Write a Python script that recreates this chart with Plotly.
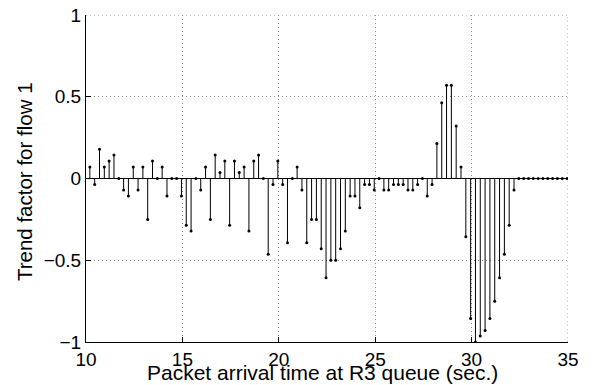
import plotly.graph_objects as go

# sample times (sec.)
t_start = 10.2
t_step = 0.25
n_samples = 100
times = [round(t_start + t_step * k, 3) for k in range(n_samples)]

# trend factor for flow 1
trend = [
    0.071, -0.036, 0.179, 0.071, 0.107, 0.143, 0.0, -0.071, -0.107, 0.071,
    -0.071, 0.071, -0.25, 0.107, 0.0, 0.071, -0.107, 0.0, 0.0, -0.107,
    -0.286, -0.321, 0.0, -0.071, 0.071, -0.25, 0.143, 0.036, 0.107, -0.286,
    0.107, 0.036, 0.071, -0.321, 0.107, 0.143, 0.0, -0.464, -0.036, 0.107,
    -0.036, -0.393, 0.0, 0.071, -0.071, -0.393, -0.25, -0.25, -0.429, -0.607,
    -0.5, -0.5, -0.429, -0.321, -0.107, -0.107, -0.179, -0.036, -0.036, -0.071,
    0.0, -0.071, -0.071, -0.036, -0.036, -0.036, -0.071, -0.071, -0.036, 0.0,
    -0.107, -0.036, 0.214, 0.464, 0.571, 0.571, 0.321, 0.071, -0.357, -0.857,
    -1.0, -0.964, -0.929, -0.857, -0.75, -0.607, -0.464, -0.286, -0.071, 0.0,
    0.0, 0.0, 0.0, 0.0, 0.0, 0.0, 0.0, 0.0, 0.0, 0.0,
]

x_ticks = [10, 15, 20, 25, 30, 35]
x_tick_text = ["10", "15", "20", "25", "30", "35"]
y_ticks = [-1, -0.5, 0, 0.5, 1]
y_tick_text = ["\u22121", "\u22120.5", "0", "0.5", "1"]

x_title = "Packet arrival time at R3 queue (sec.)"
y_title = "Trend factor for flow 1"

FONT = "Liberation Sans, Arial, Helvetica, sans-serif"
GRID_COLOR = "#8c8c8c"
GRID_DASH = "1px,3px"

stem_x, stem_y = [], []
for t, v in zip(times, trend):
    stem_x += [t, t, None]
    stem_y += [0, v, None]

fig = go.Figure()
fig.add_trace(go.Scatter(x=stem_x, y=stem_y, mode="lines",
                         line=dict(color="black", width=1),
                         hoverinfo="skip", showlegend=False, cliponaxis=True))
fig.add_trace(go.Scatter(x=times, y=trend, mode="markers",
                         marker=dict(color="black", size=3),
                         showlegend=False, cliponaxis=True))
# dotted grid lines on the open top and right edges
fig.add_shape(type="line", xref="x", yref="y", x0=x_ticks[0], x1=x_ticks[-1],
              y0=y_ticks[-1], y1=y_ticks[-1], layer="below",
              line=dict(color=GRID_COLOR, width=1, dash=GRID_DASH))
fig.add_shape(type="line", xref="x", yref="y", x0=x_ticks[-1], x1=x_ticks[-1],
              y0=y_ticks[0], y1=y_ticks[-1], layer="below",
              line=dict(color=GRID_COLOR, width=1, dash=GRID_DASH))
# stem baseline
fig.add_shape(type="line", xref="x", yref="y", x0=x_ticks[0], x1=x_ticks[-1],
              y0=0, y1=0, line=dict(color="black", width=1))

axis_common = dict(
    showgrid=True, gridcolor=GRID_COLOR, griddash=GRID_DASH, gridwidth=1,
    showline=True, linecolor="black", linewidth=1,
    ticks="inside", ticklen=5, tickcolor="black", tickwidth=1,
    zeroline=False, mirror=False, automargin=False,
    ticklabeloverflow="allow",
    tickfont=dict(family=FONT, size=19, color="black"),
)
fig.update_xaxes(range=[10, 35], tickvals=x_ticks, ticktext=x_tick_text, **axis_common)
fig.update_yaxes(range=[-1, 1], tickvals=y_ticks, ticktext=y_tick_text, **axis_common)

fig.add_annotation(text=x_title, xref="paper", yref="paper", x=0.49, y=-0.093,
                   xanchor="center", yanchor="middle", showarrow=False,
                   font=dict(family=FONT, size=21, color="black"))
fig.add_annotation(text=y_title, xref="paper", yref="paper", x=-0.128, y=0.49,
                   xanchor="center", yanchor="middle", textangle=-90, showarrow=False,
                   font=dict(family=FONT, size=20.5, color="black"))

fig.update_layout(
    width=589, height=377,
    margin=dict(l=78, r=29, t=7, b=43, pad=0),
    plot_bgcolor="white", paper_bgcolor="white",
    font=dict(family=FONT, size=19, color="black"),
)
fig.write_html("out.html")
